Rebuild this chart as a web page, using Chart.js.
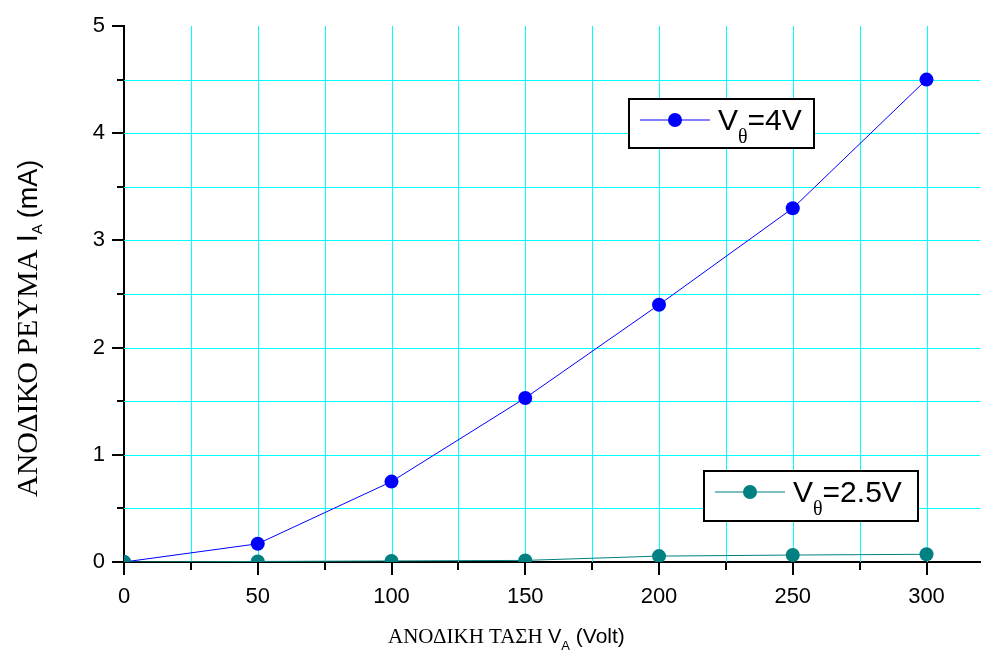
<!DOCTYPE html>
<html>
<head>
    <title>Anode current vs anode voltage</title>
    <script src="https://cdn.jsdelivr.net/npm/chart.js"></script>
    <style>
        body { margin: 0; background: #fff; }
        #wrap { width: 981px; height: 659px; }
    </style>
</head>
<body>
    <div id="wrap"><canvas id="diodeChart" width="981" height="659"></canvas></div>

    <script>
        // anode voltage (V) and anode current (mA) for two filament voltages
        const voltages = [0, 50, 100, 150, 200, 250, 300];
        const current4V = [0, 0.17, 0.75, 1.53, 2.40, 3.30, 4.50];
        const current25V = [0, 0.005, 0.01, 0.015, 0.055, 0.065, 0.072];
        const xTicks = [0, 25, 50, 75, 100, 125, 150, 175, 200, 225, 250, 275, 300];
        const yTicks = [0, 0.5, 1, 1.5, 2, 2.5, 3, 3.5, 4, 4.5, 5];

        const SANS = "'Liberation Sans', Arial, sans-serif";
        const SERIF = "'Liberation Serif', 'Times New Roman', serif";
        const CYAN = '#00FFFF';

        function pts(ys) {
            return voltages.map((v, i) => ({ x: v, y: ys[i] }));
        }

        // draw a run of text pieces: [text, font, dy, gapAfter]
        function drawRuns(ctx, x, y, runs) {
            runs.forEach(([t, font, dy, gap]) => {
                ctx.font = font;
                ctx.fillText(t, x, y + (dy || 0));
                x += ctx.measureText(t).width + (gap || 0);
            });
        }

        function legendBox(ctx, box, color, label) {
            ctx.save();
            ctx.fillStyle = '#fff';
            ctx.fillRect(box.x, box.y, box.w, box.h);
            ctx.strokeStyle = '#000';
            ctx.lineWidth = 2;
            ctx.strokeRect(box.x, box.y, box.w, box.h);
            const ly = box.y + 21;
            ctx.strokeStyle = color;
            ctx.lineWidth = 1;
            ctx.beginPath();
            ctx.moveTo(box.x + 11, ly);
            ctx.lineTo(box.x + 81, ly);
            ctx.stroke();
            ctx.fillStyle = color;
            ctx.beginPath();
            ctx.arc(box.x + 46, ly, 7, 0, Math.PI * 2);
            ctx.fill();
            ctx.fillStyle = '#000';
            ctx.textBaseline = 'alphabetic';
            drawRuns(ctx, box.x + 89, box.y + 31, [
                ['V', '30px ' + SANS, 0],
                ['θ', '20px ' + SERIF, 13],
                [label, '30px ' + SANS, 0]
            ]);
            ctx.restore();
        }

        const gridPlugin = {
            id: 'cyanGrid',
            beforeDatasetsDraw(chart) {
                const ctx = chart.ctx;
                const xs = chart.scales.x, ys = chart.scales.y;
                const a = chart.chartArea;
                ctx.save();
                ctx.strokeStyle = CYAN;
                ctx.lineWidth = 1;
                ctx.beginPath();
                xTicks.filter(v => v > 0).forEach(v => {
                    const px = Math.round(xs.getPixelForValue(v)) + 0.5;
                    ctx.moveTo(px, a.top);
                    ctx.lineTo(px, a.bottom);
                });
                yTicks.filter(v => v > 0 && v < 5).forEach(v => {
                    const py = Math.round(ys.getPixelForValue(v)) + 0.5;
                    ctx.moveTo(a.left, py);
                    ctx.lineTo(a.right, py);
                });
                ctx.stroke();
                ctx.restore();
            }
        };

        const decorPlugin = {
            id: 'decor',
            afterDraw(chart) {
                const ctx = chart.ctx;
                const xs = chart.scales.x, ys = chart.scales.y;
                const area = chart.chartArea;
                ctx.save();
                ctx.strokeStyle = '#000';
                ctx.lineWidth = 2;
                // outward tick marks
                xTicks.forEach(v => {
                    const px = Math.round(xs.getPixelForValue(v));
                    const len = v % 50 === 0 ? 13 : 8;
                    ctx.beginPath();
                    ctx.moveTo(px, area.bottom);
                    ctx.lineTo(px, area.bottom + len);
                    ctx.stroke();
                });
                yTicks.forEach(v => {
                    const py = Math.round(ys.getPixelForValue(v));
                    const len = v % 1 === 0 ? 12 : 7;
                    ctx.beginPath();
                    ctx.moveTo(area.left, py);
                    ctx.lineTo(area.left - len, py);
                    ctx.stroke();
                });

                // axis titles
                ctx.fillStyle = '#000';
                ctx.textBaseline = 'alphabetic';
                drawRuns(ctx, 388, 643, [
                    ['ΑΝΟΔΙΚΗ ΤΑΣΗ ', '21px ' + SERIF, 0],
                    ['V', '20px ' + SANS, 0],
                    ['A', '13px ' + SANS, 7],
                    [' (Volt)', '21px ' + SANS, 0]
                ]);
                ctx.save();
                ctx.translate(37, 497);
                ctx.rotate(-Math.PI / 2);
                drawRuns(ctx, 0, 0, [
                    ['ΑΝΟΔΙΚΟ ΡΕΥΜΑ ', '30px ' + SERIF, 0],
                    ['I', '29px ' + SANS, 0],
                    ['A', '15px ' + SANS, 5, 6],
                    ['(mA)', '27px ' + SANS, 0]
                ]);
                ctx.restore();
                ctx.restore();

                legendBox(ctx, { x: 629, y: 99, w: 185, h: 49 }, '#0000FF', '=4V');
                legendBox(ctx, { x: 704, y: 471, w: 214, h: 50 }, '#008080', '=2.5V');
            }
        };

        new Chart(document.getElementById('diodeChart'), {
            type: 'line',
            data: {
                datasets: [{
                    label: 'Vθ=2.5V',
                    data: pts(current25V),
                    borderColor: '#008080',
                    backgroundColor: '#008080',
                    borderWidth: 1,
                    pointRadius: 7,
                    pointBorderWidth: 0,
                    clip: 0
                }, {
                    label: 'Vθ=4V',
                    data: pts(current4V),
                    borderColor: '#0000FF',
                    backgroundColor: '#0000FF',
                    borderWidth: 1,
                    pointRadius: 7,
                    pointBorderWidth: 0,
                    clip: 0
                }]
            },
            options: {
                responsive: false,
                animation: false,
                devicePixelRatio: 1,
                layout: { autoPadding: false, padding: { left: 74, right: 1, top: 26, bottom: 37 } },
                plugins: { legend: { display: false }, tooltip: { enabled: false } },
                scales: {
                    x: {
                        type: 'linear',
                        min: 0,
                        max: 320,
                        afterBuildTicks: s => { s.ticks = xTicks.map(v => ({ value: v })); },
                        afterFit: s => { s.height = 60; s.paddingLeft = 0; s.paddingRight = 0; },
                        ticks: {
                            autoSkip: false,
                            maxRotation: 0,
                            padding: 22,
                            color: '#000',
                            font: { family: SANS, size: 22 },
                            callback: v => (v % 50 === 0 ? v : '')
                        },
                        grid: { display: false, drawTicks: false },
                        border: { display: true, color: '#000', width: 2 }
                    },
                    y: {
                        min: 0,
                        max: 5,
                        afterBuildTicks: s => { s.ticks = yTicks.map(v => ({ value: v })); },
                        afterFit: s => { s.width = 50; s.paddingTop = 0; s.paddingBottom = 0; },
                        ticks: {
                            padding: 19,
                            color: '#000',
                            font: { family: SANS, size: 22 },
                            callback: v => (v % 1 === 0 ? v : '')
                        },
                        grid: { display: false, drawTicks: false },
                        border: { display: true, color: '#000', width: 2 }
                    }
                }
            },
            plugins: [gridPlugin, decorPlugin]
        });
    </script>
</body>
</html>
